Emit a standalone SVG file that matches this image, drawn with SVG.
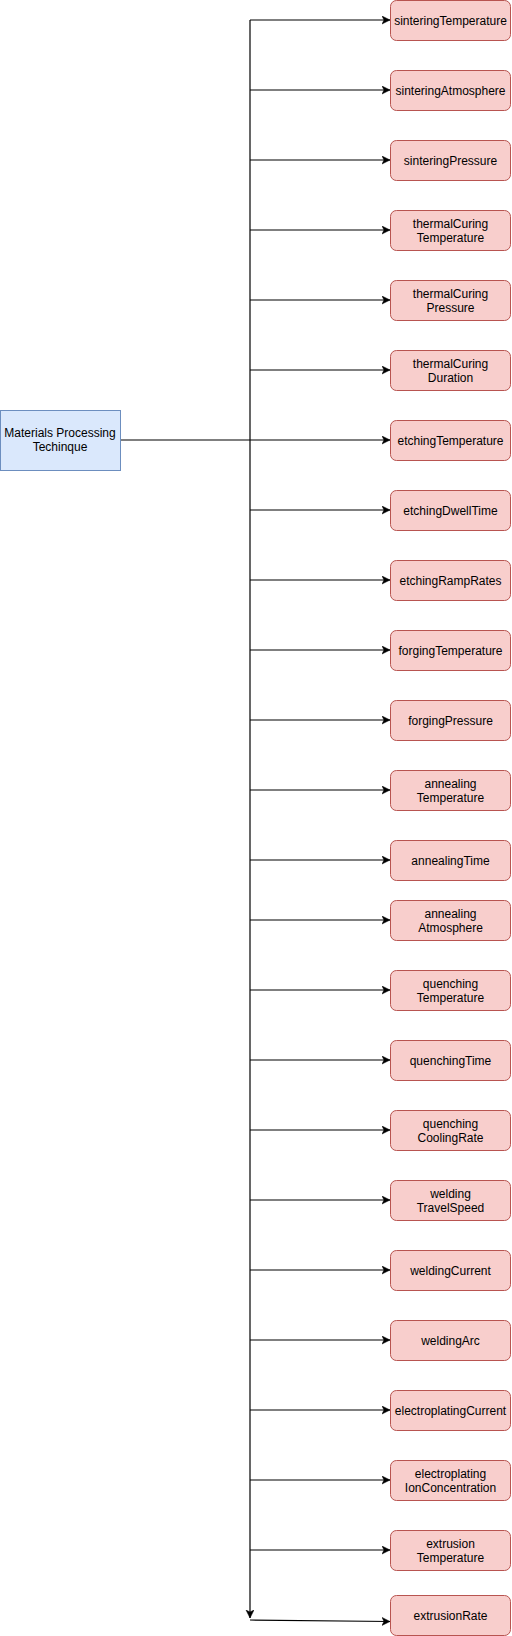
<svg xmlns="http://www.w3.org/2000/svg" width="512" height="1636" viewBox="0 0 512 1636">
<defs>
<style>
.n rect{fill:#f8cecc;stroke:#b85450;stroke-width:1}
.m rect{fill:#dae8fc;stroke:#6c8ebf;stroke-width:1}
text{font-family:"Liberation Sans",Arial,sans-serif;font-size:12px;fill:#000;text-anchor:middle}
.c path{fill:none;stroke:#000;stroke-width:1.2}
</style>
<marker id="a" markerUnits="userSpaceOnUse" markerWidth="10" markerHeight="10" refX="8" refY="4" orient="auto">
<path d="M0,0 L8,4 L0,8 L2,4 Z" fill="#000" stroke="#000" stroke-width="0.5"/>
</marker>
</defs>
<rect width="512" height="1636" fill="#fff"/>
<g class="c" id="connectors">
<path d="M250,20 V1618" marker-end="url(#a)"/>
<path d="M120,440 H390" marker-end="url(#a)"/>
<path d="M250,20 H390" marker-end="url(#a)"/>
<path d="M250,90 H390" marker-end="url(#a)"/>
<path d="M250,160 H390" marker-end="url(#a)"/>
<path d="M250,230 H390" marker-end="url(#a)"/>
<path d="M250,300 H390" marker-end="url(#a)"/>
<path d="M250,370 H390" marker-end="url(#a)"/>
<path d="M250,510 H390" marker-end="url(#a)"/>
<path d="M250,580 H390" marker-end="url(#a)"/>
<path d="M250,650 H390" marker-end="url(#a)"/>
<path d="M250,720 H390" marker-end="url(#a)"/>
<path d="M250,790 H390" marker-end="url(#a)"/>
<path d="M250,860 H390" marker-end="url(#a)"/>
<path d="M250,920 H390" marker-end="url(#a)"/>
<path d="M250,990 H390" marker-end="url(#a)"/>
<path d="M250,1060 H390" marker-end="url(#a)"/>
<path d="M250,1130 H390" marker-end="url(#a)"/>
<path d="M250,1200 H390" marker-end="url(#a)"/>
<path d="M250,1270 H390" marker-end="url(#a)"/>
<path d="M250,1340 H390" marker-end="url(#a)"/>
<path d="M250,1410 H390" marker-end="url(#a)"/>
<path d="M250,1480 H390" marker-end="url(#a)"/>
<path d="M250,1550 H390" marker-end="url(#a)"/>
<path d="M250,1620 L390,1621.5" marker-end="url(#a)"/>
</g>
<g id="main" class="m"><rect x="0.5" y="410.5" width="120" height="60"/><text x="60" y="437">Materials Processing</text><text x="60" y="451">Techinque</text></g>
<g id="n1" class="n"><rect x="390.5" y="0.5" width="120" height="40" rx="6"/><text x="450.5" y="24.5">sinteringTemperature</text></g>
<g id="n2" class="n"><rect x="390.5" y="70.5" width="120" height="40" rx="6"/><text x="450.5" y="94.5">sinteringAtmosphere</text></g>
<g id="n3" class="n"><rect x="390.5" y="140.5" width="120" height="40" rx="6"/><text x="450.5" y="164.5">sinteringPressure</text></g>
<g id="n4" class="n"><rect x="390.5" y="210.5" width="120" height="40" rx="6"/><text x="450.5" y="227.5">thermalCuring</text><text x="450.5" y="241.5">Temperature</text></g>
<g id="n5" class="n"><rect x="390.5" y="280.5" width="120" height="40" rx="6"/><text x="450.5" y="297.5">thermalCuring</text><text x="450.5" y="311.5">Pressure</text></g>
<g id="n6" class="n"><rect x="390.5" y="350.5" width="120" height="40" rx="6"/><text x="450.5" y="367.5">thermalCuring</text><text x="450.5" y="381.5">Duration</text></g>
<g id="n7" class="n"><rect x="390.5" y="420.5" width="120" height="40" rx="6"/><text x="450.5" y="444.5">etchingTemperature</text></g>
<g id="n8" class="n"><rect x="390.5" y="490.5" width="120" height="40" rx="6"/><text x="450.5" y="514.5">etchingDwellTime</text></g>
<g id="n9" class="n"><rect x="390.5" y="560.5" width="120" height="40" rx="6"/><text x="450.5" y="584.5">etchingRampRates</text></g>
<g id="n10" class="n"><rect x="390.5" y="630.5" width="120" height="40" rx="6"/><text x="450.5" y="654.5">forgingTemperature</text></g>
<g id="n11" class="n"><rect x="390.5" y="700.5" width="120" height="40" rx="6"/><text x="450.5" y="724.5">forgingPressure</text></g>
<g id="n12" class="n"><rect x="390.5" y="770.5" width="120" height="40" rx="6"/><text x="450.5" y="787.5">annealing</text><text x="450.5" y="801.5">Temperature</text></g>
<g id="n13" class="n"><rect x="390.5" y="840.5" width="120" height="40" rx="6"/><text x="450.5" y="864.5">annealingTime</text></g>
<g id="n14" class="n"><rect x="390.5" y="900.5" width="120" height="40" rx="6"/><text x="450.5" y="917.5">annealing</text><text x="450.5" y="931.5">Atmosphere</text></g>
<g id="n15" class="n"><rect x="390.5" y="970.5" width="120" height="40" rx="6"/><text x="450.5" y="987.5">quenching</text><text x="450.5" y="1001.5">Temperature</text></g>
<g id="n16" class="n"><rect x="390.5" y="1040.5" width="120" height="40" rx="6"/><text x="450.5" y="1064.5">quenchingTime</text></g>
<g id="n17" class="n"><rect x="390.5" y="1110.5" width="120" height="40" rx="6"/><text x="450.5" y="1127.5">quenching</text><text x="450.5" y="1141.5">CoolingRate</text></g>
<g id="n18" class="n"><rect x="390.5" y="1180.5" width="120" height="40" rx="6"/><text x="450.5" y="1197.5">welding</text><text x="450.5" y="1211.5">TravelSpeed</text></g>
<g id="n19" class="n"><rect x="390.5" y="1250.5" width="120" height="40" rx="6"/><text x="450.5" y="1274.5">weldingCurrent</text></g>
<g id="n20" class="n"><rect x="390.5" y="1320.5" width="120" height="40" rx="6"/><text x="450.5" y="1344.5">weldingArc</text></g>
<g id="n21" class="n"><rect x="390.5" y="1390.5" width="120" height="40" rx="6"/><text x="450.5" y="1414.5">electroplatingCurrent</text></g>
<g id="n22" class="n"><rect x="390.5" y="1460.5" width="120" height="40" rx="6"/><text x="450.5" y="1477.5">electroplating</text><text x="450.5" y="1491.5">IonConcentration</text></g>
<g id="n23" class="n"><rect x="390.5" y="1530.5" width="120" height="40" rx="6"/><text x="450.5" y="1547.5">extrusion</text><text x="450.5" y="1561.5">Temperature</text></g>
<g id="n24" class="n"><rect x="390.5" y="1595.5" width="120" height="40" rx="6"/><text x="450.5" y="1619.5">extrusionRate</text></g>
</svg>
